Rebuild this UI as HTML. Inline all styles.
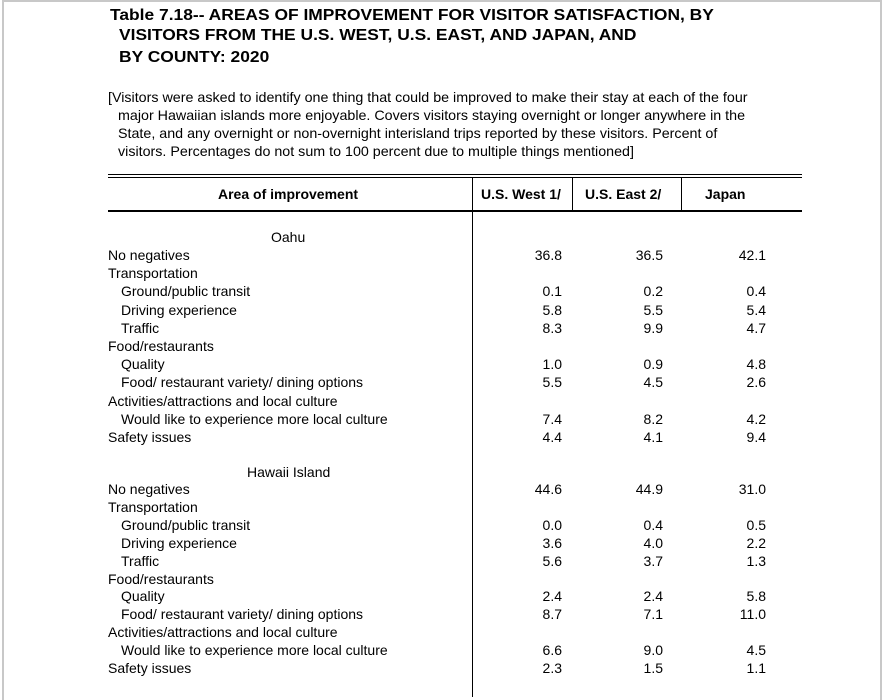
<!DOCTYPE html>
<html><head><meta charset="utf-8"><style>
body{margin:0;width:884px;height:692px;overflow:hidden;background:#fff;font-family:"Liberation Sans",Arial,sans-serif;color:#000;position:relative}
.frame{position:absolute;left:2px;top:0;width:880px;height:700px;border-left:2px solid #c8c8c8;border-top:2px solid #c8c8c8;border-right:2px solid #c8c8c8;box-sizing:border-box}
.t{position:absolute;white-space:nowrap;font-weight:bold;font-size:16px;line-height:20px;transform:scaleX(1.088);transform-origin:0 0}
.n{position:absolute;white-space:nowrap;font-size:14px;line-height:18px}
.nt{transform:scaleX(1.02);transform-origin:0 0}
.v{position:absolute;width:1px;background:#000}
.h{position:absolute;height:2px;background:#000;left:108px;width:694px}
.num{position:absolute;font-size:14px;line-height:18px;text-align:right;width:60px}
</style></head><body>
<div class="frame"></div>
<div class="t" style="left:110px;top:6px">Table 7.18-- AREAS OF IMPROVEMENT FOR VISITOR SATISFACTION, BY</div>
<div class="t" style="left:119px;top:26px">VISITORS FROM THE U.S. WEST, U.S. EAST, AND JAPAN, AND</div>
<div class="t" style="left:119px;top:48px">BY COUNTY: 2020</div>
<div class="n nt" style="left:108px;top:88px">[Visitors were asked to identify one thing that could be improved to make their stay at each of the four</div>
<div class="n nt" style="left:118px;top:106px">major Hawaiian islands more enjoyable. Covers visitors staying overnight or longer anywhere in the</div>
<div class="n nt" style="left:118px;top:124px">State, and any overnight or non-overnight interisland trips reported by these visitors. Percent of</div>
<div class="n nt" style="left:118px;top:142px">visitors. Percentages do not sum to 100 percent due to multiple things mentioned]</div>
<div class="h" style="top:174px;height:1px"></div>
<div class="h" style="top:177px;height:1px"></div>
<div class="h" style="top:210px"></div>
<div class="v" style="left:472px;top:177px;height:520px"></div>
<div class="v" style="left:572px;top:177px;height:34px"></div>
<div class="v" style="left:681px;top:177px;height:34px"></div>
<div class="n" style="left:218px;top:185px;font-weight:bold">Area of improvement</div>
<div class="n" style="left:481px;top:185px;font-weight:bold">U.S. West 1/</div>
<div class="n" style="left:585px;top:185px;font-weight:bold">U.S. East 2/</div>
<div class="n" style="left:705px;top:185px;font-weight:bold">Japan</div>
<div id="rows"></div>
<script>
const labels=[["Oahu",271,0],["No negatives",108,1],["Transportation",108,0],["Ground/public transit",121,1],["Driving experience",121,1],["Traffic",121,1],["Food/restaurants",108,0],["Quality",121,1],["Food/ restaurant variety/ dining options",121,1],["Activities/attractions and local culture",108,0],["Would like to experience more local culture",121,1],["Safety issues",108,1]];
const oahuWest=["36.8","0.1","5.8","8.3","1.0","5.5","7.4","4.4"];
const oahuEast=["36.5","0.2","5.5","9.9","0.9","4.5","8.2","4.1"];
const oahuJapan=["42.1","0.4","5.4","4.7","4.8","2.6","4.2","9.4"];
const hawWest=["44.6","0.0","3.6","5.6","2.4","8.7","6.6","2.3"];
const hawEast=["44.9","0.4","4.0","3.7","2.4","7.1","9.0","1.5"];
const hawJapan=["31.0","0.5","2.2","1.3","5.8","11.0","4.5","1.1"];
const root=document.getElementById('rows');
function block(name,titleTop,rowTop,step,w,e,j){
  let k=0;
  labels.forEach((l,i)=>{
    const d=document.createElement('div');
    d.className='n';
    const y=i===0?titleTop:rowTop+(i-1)*step;
    d.style.left=(i===0?(name==="Oahu"?271:247):l[1])+'px';
    d.style.top=y+'px';
    d.textContent=i===0?name:l[0];
    
    
    root.appendChild(d);
    if(l[2]){
      [[w,502],[e,603],[j,706]].forEach(([arr,x])=>{
        const c=document.createElement('div');
        c.className='num';c.style.left=x+'px';c.style.top=y+'px';
        c.textContent=arr[k];
        
        
        root.appendChild(c);
      });
      k++;
    }
  });
}
block("Oahu",228,246,18.2,oahuWest,oahuEast,oahuJapan);
block("Hawaii Island",463,480,17.9,hawWest,hawEast,hawJapan);
</script>
</body></html>
